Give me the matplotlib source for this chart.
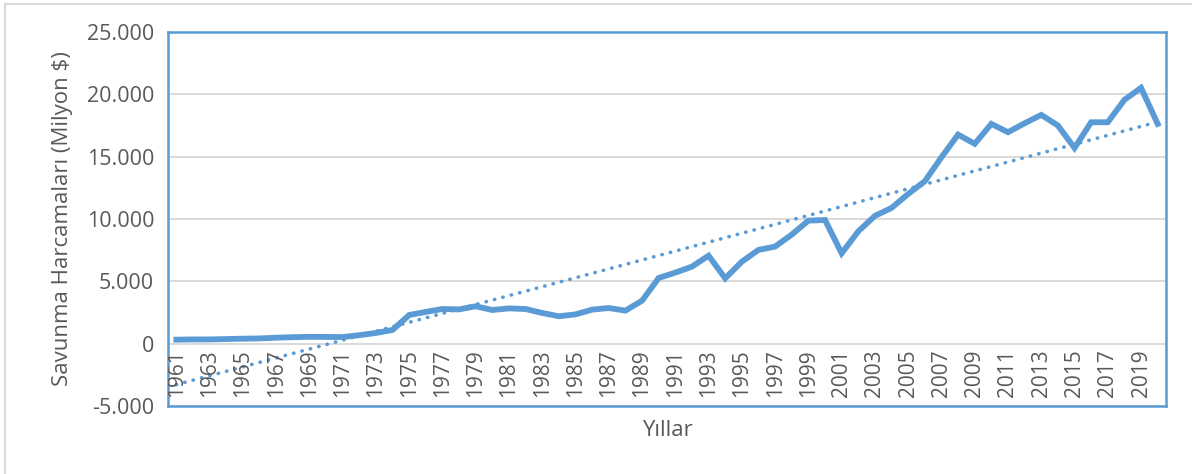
import numpy as np
import matplotlib
matplotlib.use("Agg")
import matplotlib.pyplot as plt
from matplotlib.patches import Rectangle
from matplotlib.ticker import FuncFormatter

plt.rcParams['font.family'] = ['Open Sans', 'DejaVu Sans']

# savunma harcamalari, milyon $
years = list(range(1961, 2021))
spending = [320, 340, 340, 370, 400, 420, 480, 520, 550, 540,
            530, 680, 860, 1100, 2300, 2550, 2780, 2750, 3000, 2700,
            2830, 2780, 2460, 2200, 2350, 2730, 2860, 2650, 3450, 5270,
            5700, 6180, 7060, 5240, 6580, 7520, 7790, 8750, 9870, 9920,
            7250, 9010, 10250, 10890, 12010, 13030, 14950, 16770, 16030, 17630,
            16960, 17680, 18350, 17500, 15700, 17760, 17760, 19560, 20520, 17630]
yticks = [-5000, 0, 5000, 10000, 15000, 20000, 25000]

blue = '#5B9BD5'
gray_txt = '#595959'

fig = plt.figure(figsize=(11.92, 4.74), dpi=100)
ax = fig.add_axes([168 / 1192, 68 / 474, 998 / 1192, 374 / 474])

x = np.arange(len(years))
ax.plot(x, spending, color=blue, lw=4.2, solid_joinstyle='miter', zorder=3)

# lineer trend
k, b = np.polyfit(x, spending, 1)
ax.plot(x, k * x + b, color=blue, lw=2.6, linestyle=(0, (0.1, 2.3)),
        dash_capstyle='round', zorder=2)

ax.set_xlim(-0.5, len(years) - 0.5)
ax.set_ylim(-5000, 25000)
ax.set_yticks(yticks)
ax.yaxis.set_major_formatter(FuncFormatter(lambda v, p: f'{int(v):,}'.replace(',', '.')))
ax.tick_params(axis='y', length=0, labelsize=15.5, labelcolor=gray_txt, pad=10)
ax.set_xticks([])
ax.grid(axis='y', color='#D9D9D9', lw=1.4)
ax.set_axisbelow(True)

for s in ax.spines.values():
    s.set_color(blue)
    s.set_linewidth(1.8)

# yil etiketleri sifir cizgisinin altinda
for i, yr in enumerate(years):
    if i % 2 == 0:
        ax.text(i, -450, str(yr), rotation=90, ha='center', va='top',
                fontsize=15, color=gray_txt, clip_on=True)

ax.set_ylabel('Savunma Harcamaları (Milyon $)', fontsize=16, color=gray_txt, labelpad=10)
fig.text(667 / 1192, 1 - 430 / 474, 'Yıllar', ha='center', va='center',
         fontsize=16, color=gray_txt)

fig.patches.append(Rectangle((5 / 1192, -0.1), 1.2, 1.1 - 4 / 474,
                             transform=fig.transFigure, fill=False,
                             edgecolor='#D9D9D9', lw=1.5))

fig.savefig('out.png', dpi=100)
